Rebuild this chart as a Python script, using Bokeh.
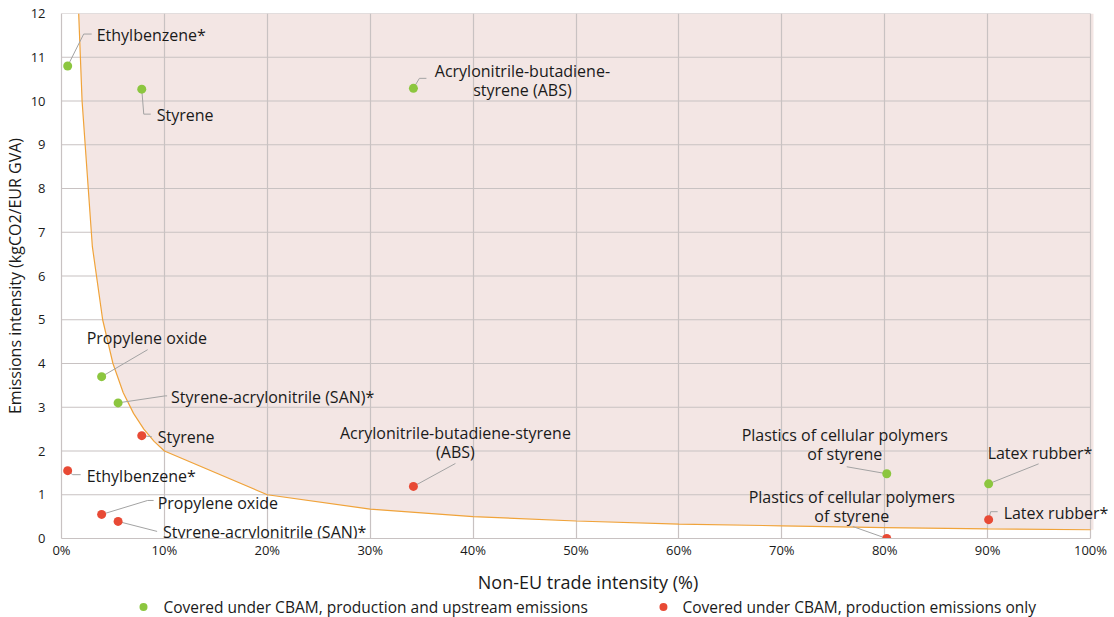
from bokeh.plotting import figure
from bokeh.models import ColumnDataSource, NumeralTickFormatter, FixedTicker, Range1d, LabelSet
from bokeh.layouts import column
from bokeh.embed import file_html
from bokeh.resources import INLINE
from bokeh.core.properties import value

FONT = "Open Sans"

# ---------------- data ----------------
products = ["Ethylbenzene*", "Styrene", "Acrylonitrile-butadiene-styrene (ABS)", "Propylene oxide",
            "Styrene-acrylonitrile (SAN)*", "Plastics of cellular polymers of styrene", "Latex rubber*"]
upstream_trade = [0.006, 0.078, 0.342, 0.039, 0.055, 0.802, 0.901]
upstream_emis = [10.8, 10.27, 10.29, 3.70, 3.10, 1.48, 1.25]
production_trade = [0.006, 0.078, 0.342, 0.039, 0.055, 0.802, 0.901]
production_emis = [1.55, 2.35, 1.19, 0.55, 0.39, 0.0, 0.43]

threshold_x = [0.0167, 0.02, 0.03, 0.04, 0.05, 0.06, 0.07, 0.08, 0.09, 0.1,
               0.2, 0.3, 0.4, 0.5, 0.6, 0.7, 0.8, 0.9, 1.0]
threshold_y = [12, 10, 6.67, 5, 4, 3.33, 2.86, 2.5, 2.22, 2,
               1, 0.67, 0.5, 0.4, 0.33, 0.29, 0.25, 0.22, 0.2]

upstream_labels = ["Ethylbenzene*", "Styrene", "Acrylonitrile-butadiene-\nstyrene (ABS)", "Propylene oxide",
                   "Styrene-acrylonitrile (SAN)*", "Plastics of cellular polymers\nof styrene", "Latex rubber*"]
production_labels = ["Ethylbenzene*", "Styrene", "Acrylonitrile-butadiene-styrene\n(ABS)", "Propylene oxide",
                     "Styrene-acrylonitrile (SAN)*", "Plastics of cellular polymers\nof styrene", "Latex rubber*"]

legend_labels = ["Covered under CBAM, production and upstream emissions",
                 "Covered under CBAM, production emissions only"]

x_ticks = [0, 0.1, 0.2, 0.3, 0.4, 0.5, 0.6, 0.7, 0.8, 0.9, 1.0]
y_ticks = list(range(0, 13))

# ---------------- layout / style (pixel offsets of labels relative to their point) ----------------
up_text_off = [(29, -31), (15, 26), (109, -8), (-15, -39), (53, -6), (-42, -29), (-1, -31)]
up_text_align = ["left", "left", "center", "left", "left", "center", "left"]
up_lead_off = [[(0, 0), (16, -32), (24, -32)], [(0, 0), (2, 25), (9, 25)], [(0, 0), (6, -10), (13, -10)],
               [(0, 0), (46, -27)], [(0, 0), (47, -7), (49, -7)], [(0, 0), (-40, -7)], [(0, 0), (50, -20)]]

pr_text_off = [(19, 5), (16, 1), (42, -44), (56, -11), (45, 11), (-35, -32), (15, -7)]
pr_text_align = ["left", "left", "center", "left", "left", "center", "left"]
pr_lead_off = [[(0, 0), (5, 4), (13, 4)], [(0, 0), (10, 1)], [(0, 0), (42, -23)],
               [(0, 0), (46, -14), (52, -14)], [(0, 0), (39, 10)], [(0, 0), (-34, -12)],
               [(0, 0), (2, -8), (9, -8)]]

GREEN = "#8cc63f"
RED = "#e84a35"
TXT = "#1a1a1a"
GRID = "#c8c2c2"

W = 1114
H_MAIN = 596
H_LEG = 21
BORDER_L, BORDER_R, BORDER_T, BORDER_B = 61, 0, 13, H_MAIN - 539
PX_PER_X = 1029.0          # pixels for 0%..100%
FRAME_W = W - BORDER_L - BORDER_R
FRAME_H = H_MAIN - BORDER_T - BORDER_B
PX_PER_Y = FRAME_H / 12.0
X_END = FRAME_W / PX_PER_X  # frame extends a little past 100% so that labels are not clipped

p = figure(width=W, height=H_MAIN, output_backend="svg", toolbar_location=None,
           x_range=Range1d(0, X_END), y_range=Range1d(0, 12),
           min_border_left=BORDER_L, min_border_right=BORDER_R,
           min_border_top=BORDER_T, min_border_bottom=BORDER_B)
p.outline_line_color = None

# shaded zone above the threshold curve
shade_x = threshold_x + [threshold_x[-1] + 3 / PX_PER_X]
shade_y = threshold_y + [threshold_y[-1]]
p.varea(x=shade_x, y1=shade_y, y2=[12] * len(shade_y), fill_color="#f3e6e4", level="image")

# grid: vertical lines from the axis grid, horizontal lines limited to 0..100%
p.xgrid.ticker = FixedTicker(ticks=x_ticks)
p.xgrid.grid_line_color = GRID
p.xgrid.grid_line_width = 1.2
p.ygrid.visible = False
p.segment(x0=[x_ticks[0]] * len(y_ticks), y0=y_ticks, x1=[x_ticks[-1]] * len(y_ticks), y1=y_ticks,
          line_color=GRID, line_width=1.2, level="underlay")

p.line(threshold_x, threshold_y, line_color="#f0a33a", line_width=1.2)

p.xaxis.ticker = FixedTicker(ticks=x_ticks)
p.yaxis.ticker = FixedTicker(ticks=y_ticks)
p.xaxis.bounds = (x_ticks[0], x_ticks[-1])
p.xaxis.formatter = NumeralTickFormatter(format="0%")
for ax in (p.xaxis[0], p.yaxis[0]):
    ax.axis_line_color = GRID
    ax.axis_line_width = 1.2
    ax.major_tick_line_color = None
    ax.minor_tick_line_color = None
    ax.major_tick_out = 0
    ax.major_tick_in = 0
    ax.minor_tick_out = 0
    ax.minor_tick_in = 0
    ax.major_label_text_font = FONT
    ax.major_label_text_font_size = "13px"
    ax.major_label_text_color = TXT
    ax.axis_label_text_font = FONT
    ax.axis_label_text_font_style = "normal"
    ax.axis_label_text_color = TXT
p.xaxis.axis_label_text_font_size = "18px"
p.yaxis.axis_label_text_font_size = "16px"
p.xaxis.axis_label = "Non-EU trade intensity (%)"
p.yaxis.axis_label = "Emissions intensity (kgCO2/EUR GVA)"
p.xaxis.major_label_standoff = 2
p.yaxis.major_label_standoff = 16
p.xaxis.axis_label_standoff = 8
p.yaxis.axis_label_standoff = 2


def leaders(xs, ys, offs):
    lx, ly = [], []
    for x0, y0, pts in zip(xs, ys, offs):
        lx.append([x0 + dx / PX_PER_X for dx, dy in pts])
        ly.append([y0 - dy / PX_PER_Y for dx, dy in pts])
    return lx, ly


def label_sources(xs, ys, labels, offs, aligns, line_gap=19):
    out = {}
    for x0, y0, lab, (ox, oy), al in zip(xs, ys, labels, offs, aligns):
        d = out.setdefault(al, dict(x=[], y=[], t=[], dx=[], dy=[]))
        lines = lab.split("\n")
        n = len(lines)
        for i, ln in enumerate(lines):
            d["x"].append(x0)
            d["y"].append(y0)
            d["t"].append(ln)
            d["dx"].append(ox)
            d["dy"].append(-(oy + (i - (n - 1) / 2) * line_gap))
    return out


for xs, ys, offs in ((upstream_trade, upstream_emis, up_lead_off),
                     (production_trade, production_emis, pr_lead_off)):
    lx, ly = leaders(xs, ys, offs)
    p.multi_line(lx, ly, line_color="#a3a3a3", line_width=1)

p.scatter(upstream_trade, upstream_emis, size=9, marker="circle", fill_color=GREEN, line_color=None)
p.scatter(production_trade, production_emis, size=9, marker="circle", fill_color=RED, line_color=None)

for xs, ys, labels, offs, aligns in ((upstream_trade, upstream_emis, upstream_labels, up_text_off, up_text_align),
                                     (production_trade, production_emis, production_labels, pr_text_off, pr_text_align)):
    for al, d in label_sources(xs, ys, labels, offs, aligns).items():
        ls = LabelSet(x="x", y="y", text="t", x_offset="dx", y_offset="dy",
                      text_align=al, text_baseline="middle",
                      text_font=value(FONT), text_font_size="16px", text_color=TXT,
                      source=ColumnDataSource(d))
        p.add_layout(ls)

# ---------------- legend strip (frames are aligned with the main plot) ----------------
leg = figure(width=W, height=H_LEG, output_backend="svg", toolbar_location=None,
             x_range=p.x_range, y_range=Range1d(0, 1),
             x_axis_type=None, y_axis_type=None,
             min_border_left=0, min_border_right=0, min_border_top=0, min_border_bottom=0)
leg.outline_line_color = None
leg.grid.visible = False
leg_dot_x = [0.0797, 0.585]
leg_text_x = [0.0991, 0.6035]
leg.scatter(leg_dot_x, [0.5, 0.5], size=8, marker="circle",
            fill_color=[GREEN, RED], line_color=None)
leg.text(x=leg_text_x, y=[0.5, 0.5], text=legend_labels, text_baseline="middle",
         text_font=value(FONT), text_font_size="15.5px", text_color=TXT)

layout = column(p, leg, spacing=0)
open("out.html", "w").write(file_html(layout, INLINE))
